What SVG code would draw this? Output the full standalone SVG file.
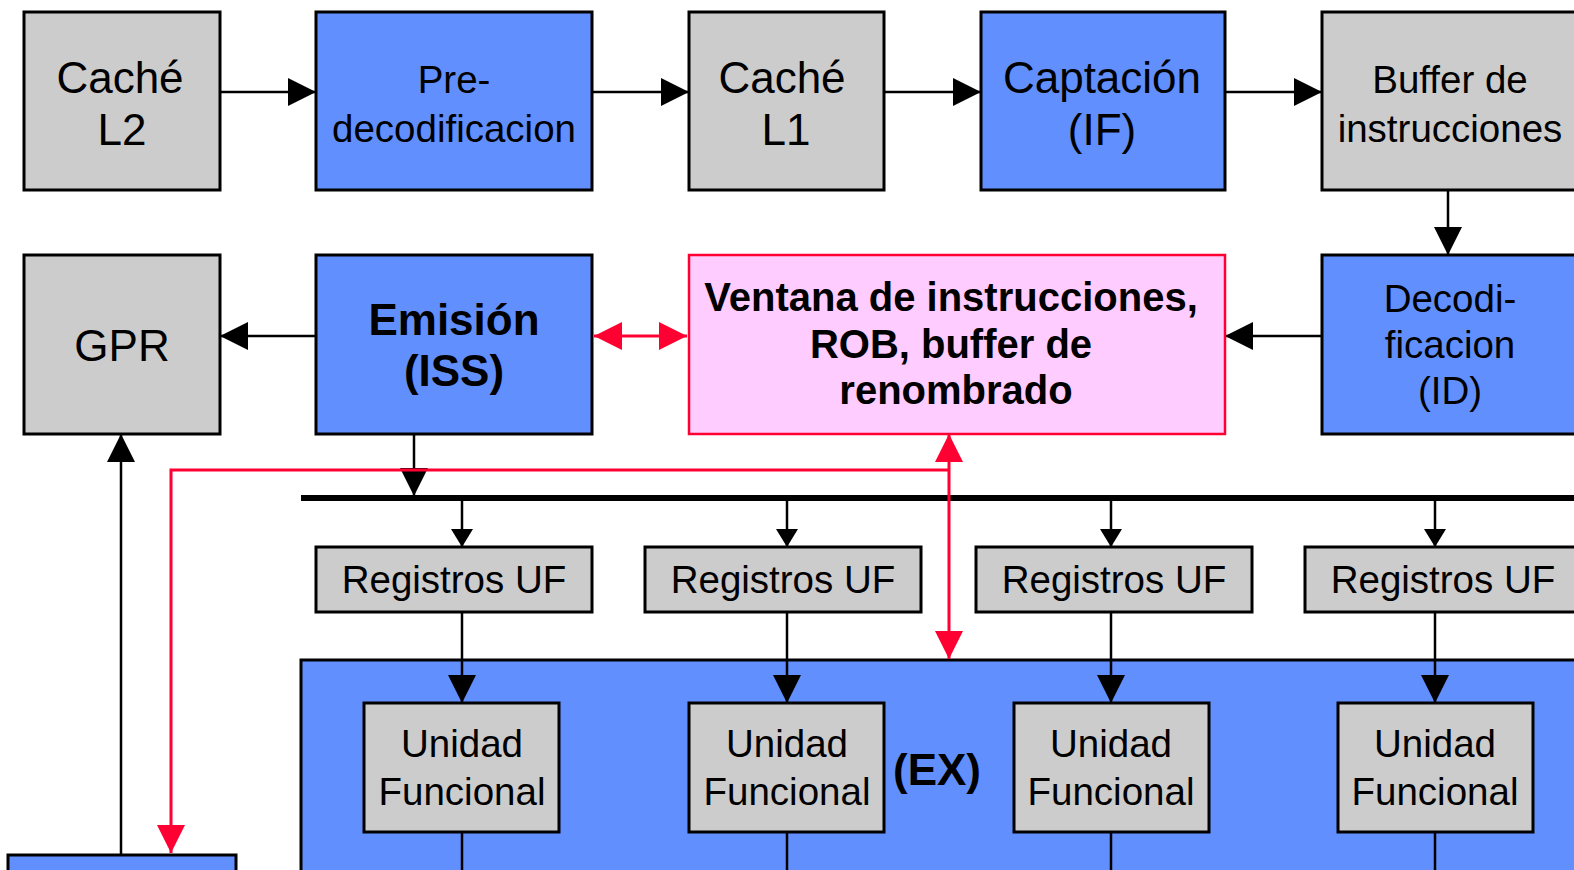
<svg xmlns="http://www.w3.org/2000/svg" width="1574" height="870" viewBox="0 0 1574 870">
<style>
.g{fill:#cccccc;stroke:#000;stroke-width:3}
.b{fill:#628ffe;stroke:#000;stroke-width:3}
.p{fill:#ffccff;stroke:#ff0033;stroke-width:2.5}
text{font-family:"Liberation Sans",Arial,sans-serif;fill:#000;text-anchor:middle}
.t44{font-size:44px}
.t39{font-size:38.5px}
.t40{font-size:40px}
.bold{font-weight:bold}
.c{stroke:#000;stroke-width:2.5;fill:none}
.r{stroke:#ff0033;stroke-width:3;fill:none}
</style>
<defs>
<marker id="ah" markerUnits="userSpaceOnUse" markerWidth="28" markerHeight="28" refX="28" refY="14" orient="auto"><path d="M0,0 L28,14 L0,28 z" fill="#000"/></marker>
<marker id="as" markerUnits="userSpaceOnUse" markerWidth="18" markerHeight="22" refX="18" refY="11" orient="auto"><path d="M0,0 L18,11 L0,22 z" fill="#000"/></marker>
<marker id="ar" markerUnits="userSpaceOnUse" markerWidth="28" markerHeight="28" refX="28" refY="14" orient="auto-start-reverse"><path d="M0,0 L28,14 L0,28 z" fill="#ff0033"/></marker>
</defs>
<rect width="1574" height="870" fill="#fff"/>

<g id="ex">
<rect class="b" x="301" y="660" width="1290" height="230"/>
<text class="t44 bold" x="937" y="785">(EX)</text>
</g>

<g id="connectors">
<line class="c" x1="220" y1="92" x2="316" y2="92" marker-end="url(#ah)"/>
<line class="c" x1="592" y1="92" x2="689" y2="92" marker-end="url(#ah)"/>
<line class="c" x1="884" y1="92" x2="981" y2="92" marker-end="url(#ah)"/>
<line class="c" x1="1225" y1="92" x2="1322" y2="92" marker-end="url(#ah)"/>
<line class="c" x1="1448" y1="190" x2="1448" y2="255" marker-end="url(#ah)"/>
<line class="c" x1="1322" y1="336" x2="1225" y2="336" marker-end="url(#ah)"/>
<line class="c" x1="316" y1="336" x2="220" y2="336" marker-end="url(#ah)"/>
<line class="r" x1="594" y1="336" x2="687" y2="336" marker-start="url(#ar)" marker-end="url(#ar)"/>
<line class="c" x1="414" y1="434" x2="414" y2="496" marker-end="url(#ah)"/>
<line stroke="#000" stroke-width="6" x1="301" y1="498" x2="1574" y2="498"/>
<line class="c" x1="462" y1="500" x2="462" y2="547" marker-end="url(#as)"/>
<line class="c" x1="787" y1="500" x2="787" y2="547" marker-end="url(#as)"/>
<line class="c" x1="1111" y1="500" x2="1111" y2="547" marker-end="url(#as)"/>
<line class="c" x1="1435" y1="500" x2="1435" y2="547" marker-end="url(#as)"/>
<line class="c" x1="462" y1="612" x2="462" y2="703" marker-end="url(#ah)"/>
<line class="c" x1="787" y1="612" x2="787" y2="703" marker-end="url(#ah)"/>
<line class="c" x1="1111" y1="612" x2="1111" y2="703" marker-end="url(#ah)"/>
<line class="c" x1="1435" y1="612" x2="1435" y2="703" marker-end="url(#ah)"/>
<line class="c" x1="462" y1="832" x2="462" y2="870"/>
<line class="c" x1="787" y1="832" x2="787" y2="870"/>
<line class="c" x1="1111" y1="832" x2="1111" y2="870"/>
<line class="c" x1="1435" y1="832" x2="1435" y2="870"/>
<line class="c" x1="121" y1="855" x2="121" y2="434" marker-end="url(#ah)"/>
<polyline class="r" points="949,470 171,470 171,853" marker-end="url(#ar)"/>
<line class="r" x1="949" y1="434" x2="949" y2="659" marker-start="url(#ar)" marker-end="url(#ar)"/>
</g>

<g id="cache-l2"><rect class="g" x="24" y="12" width="196" height="178"/><text class="t44" x="120" y="93">Caché</text><text class="t44" x="122" y="145">L2</text></g>
<g id="predecod"><rect class="b" x="316" y="12" width="276" height="178"/><text class="t39" x="454" y="93">Pre-</text><text class="t39" x="454" y="142">decodificacion</text></g>
<g id="cache-l1"><rect class="g" x="689" y="12" width="195" height="178"/><text class="t44" x="782" y="93">Caché</text><text class="t44" x="786" y="145">L1</text></g>
<g id="captacion"><rect class="b" x="981" y="12" width="244" height="178"/><text class="t44" x="1102" y="93">Captación</text><text class="t44" x="1102" y="145">(IF)</text></g>
<g id="buffer"><rect class="g" x="1322" y="12" width="280" height="178"/><text class="t39" x="1450" y="93">Buffer de</text><text class="t39" x="1450" y="142">instrucciones</text></g>

<g id="gpr"><rect class="g" x="24" y="255" width="196" height="179"/><text class="t44" x="122" y="361">GPR</text></g>
<g id="emision"><rect class="b" x="316" y="255" width="276" height="179"/><text class="t44 bold" x="454" y="335">Emisión</text><text class="t44 bold" x="454" y="386">(ISS)</text></g>
<g id="ventana"><rect class="p" x="689" y="255" width="536" height="179"/><text class="t40 bold" x="951" y="311">Ventana de instrucciones,</text><text class="t40 bold" x="951" y="358">ROB, buffer de</text><text class="t40 bold" x="956" y="404">renombrado</text></g>
<g id="decod"><rect class="b" x="1322" y="255" width="280" height="179"/><text class="t39" x="1450" y="312">Decodi-</text><text class="t39" x="1450" y="358">ficacion</text><text class="t39" x="1450" y="404">(ID)</text></g>

<g id="reg1"><rect class="g" x="316" y="547" width="276" height="65"/><text class="t39" x="454" y="593">Registros UF</text></g>
<g id="reg2"><rect class="g" x="645" y="547" width="276" height="65"/><text class="t39" x="783" y="593">Registros UF</text></g>
<g id="reg3"><rect class="g" x="976" y="547" width="276" height="65"/><text class="t39" x="1114" y="593">Registros UF</text></g>
<g id="reg4"><rect class="g" x="1305" y="547" width="290" height="65"/><text class="t39" x="1443" y="593">Registros UF</text></g>

<g id="uf1"><rect class="g" x="364" y="703" width="195" height="129"/><text class="t39" x="462" y="757">Unidad</text><text class="t39" x="462" y="805">Funcional</text></g>
<g id="uf2"><rect class="g" x="689" y="703" width="195" height="129"/><text class="t39" x="787" y="757">Unidad</text><text class="t39" x="787" y="805">Funcional</text></g>
<g id="uf3"><rect class="g" x="1014" y="703" width="195" height="129"/><text class="t39" x="1111" y="757">Unidad</text><text class="t39" x="1111" y="805">Funcional</text></g>
<g id="uf4"><rect class="g" x="1338" y="703" width="195" height="129"/><text class="t39" x="1435" y="757">Unidad</text><text class="t39" x="1435" y="805">Funcional</text></g>

<g id="bottom-left"><rect class="b" x="8" y="855" width="228" height="40"/></g>
</svg>
